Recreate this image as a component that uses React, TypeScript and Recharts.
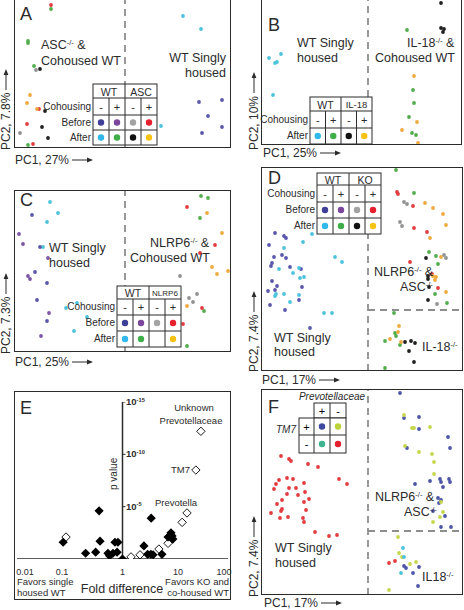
import React from 'react'
import { ScatterChart, Scatter, XAxis, YAxis, ReferenceLine } from 'recharts'

type Pt = [number, number]

// PC scores (arbitrary units, origin at the panel's lower-left corner)
// panel A
const aNavy: Pt[] = [[185, 46], [208, 48], [194, 32], [208, 21], [188, 15]]
const aCyan: Pt[] = [[169, 132], [187, 119], [147, 22]]
const aRed: Pt[] = [[37, 143], [13, 24], [19, 4], [25, 39]]
const aGreen: Pt[] = [[37, 139], [14, 107], [14, 105], [20, 82], [14, 3]]
const aGray: Pt[] = [[22, 78], [6, 15]]
const aBlack: Pt[] = [[26, 79], [31, 37], [28, 21], [34, 10]]
const aOrange: Pt[] = [[16, 53], [13, 45], [23, 39]]

// panel B
const bCyan: Pt[] = [[20, 91], [16, 83], [14, 82], [8, 87], [12, 50]]
const bBlack: Pt[] = [[180, 142], [180, 117], [183, 116], [182, 113]]
const bGreen: Pt[] = [[146, 115], [152, 55], [153, 42], [148, 28], [151, 12], [155, 10]]
const bOrange: Pt[] = [[153, 69], [156, 23], [141, 15], [157, 2]]

// panel C
const cCyan: Pt[] = [[36, 150], [44, 139], [33, 130], [29, 105], [52, 44], [63, 49], [73, 35], [60, 21]]
const cNavy: Pt[] = [[18, 137], [26, 105], [21, 80], [33, 69], [23, 52], [33, 31]]
const cPurple: Pt[] = [[5, 118], [9, 108], [34, 94], [14, 76], [16, 73], [35, 39], [27, 16]]
const cGreen: Pt[] = [[187, 156], [194, 154], [186, 134], [190, 41], [173, 6]]
const cRed: Pt[] = [[173, 145], [201, 107], [186, 99], [188, 44], [169, 28]]
const cOrange: Pt[] = [[193, 139], [208, 119], [198, 85], [203, 78], [214, 81], [173, 46]]
const cGray: Pt[] = [[166, 76], [183, 58], [175, 54], [179, 50]]

// panel D
const dNavy: Pt[] = [[14, 138], [23, 135], [25, 133], [8, 126], [21, 116], [25, 113], [13, 114], [11, 108], [10, 105], [29, 104], [40, 102], [11, 90], [16, 85], [14, 81], [41, 84], [7, 80], [38, 71], [49, 43], [9, 66], [24, 61]]
const dCyan: Pt[] = [[42, 129], [51, 137], [23, 123], [32, 98], [38, 103], [18, 102], [74, 114], [81, 109], [39, 93], [43, 94], [15, 77], [14, 75], [23, 77], [38, 76], [63, 58], [71, 58], [29, 69]]
const dGreen: Pt[] = [[135, 201], [153, 178], [168, 119], [175, 115], [177, 107], [174, 77], [186, 68], [133, 58], [124, 30], [134, 38], [135, 35], [139, 26], [124, 3]]
const dRed: Pt[] = [[136, 179], [137, 177], [152, 165], [153, 143], [166, 139], [149, 109], [171, 97], [177, 83]]
const dGray: Pt[] = [[143, 169], [146, 167], [139, 149], [141, 145], [183, 116], [185, 113], [176, 67]]
const dOrange: Pt[] = [[164, 168], [172, 163], [182, 157], [185, 146], [169, 133], [180, 114], [172, 95], [175, 94], [174, 91], [185, 79], [138, 45], [137, 39], [129, 32], [140, 29]]
const dBlack: Pt[] = [[165, 113], [167, 95], [167, 92], [168, 84], [167, 71], [144, 29], [150, 30], [148, 20], [154, 28], [153, 9]]

// panel F
const fRed: Pt[] = [[20, 139], [28, 136], [30, 134], [47, 131], [57, 128], [26, 117], [18, 115], [32, 116], [15, 111], [13, 106], [28, 107], [35, 107], [43, 112], [78, 116], [86, 111], [26, 101], [37, 100], [44, 103], [21, 95], [48, 96], [16, 91], [43, 93], [21, 86], [20, 84], [45, 85], [10, 82], [27, 78], [19, 77], [42, 77], [43, 73], [54, 63], [68, 59], [76, 60], [128, 32], [134, 34]]
const fBlue: Pt[] = [[139, 202], [143, 177], [158, 178], [158, 166], [187, 158], [189, 147], [146, 147], [169, 114], [179, 116], [180, 113], [188, 116], [189, 113], [154, 111], [182, 108], [177, 97], [180, 95], [178, 92], [172, 84], [184, 79], [180, 68], [190, 68], [143, 29], [145, 27], [158, 28], [152, 22], [157, 9]]
const fLime: Pt[] = [[143, 180], [151, 167], [153, 167], [169, 168], [144, 149], [158, 143], [171, 141], [173, 133], [173, 121], [180, 93], [182, 83], [179, 78], [172, 73], [137, 58], [138, 42], [141, 38], [149, 31], [155, 33], [128, 5]]
const fCyan: Pt[] = [[142, 47], [143, 38], [140, 22]]

// panel E: fold difference vs -log10(p)
const eFilled: Pt[] = [[0.075, 1.6], [0.36, 4.6], [0.375, 1.7], [0.2, 0.55], [0.31, 0.65], [0.53, 0.55], [0.57, 0.3], [0.66, 0.55], [0.72, 1.6], [0.82, 1.6], [0.79, 0.65], [1, 0], [3.5, 3.9], [2.55, 1.25], [3.0, 0.45], [3.45, 0.45], [3.8, 0.4], [5.6, 0.45], [7.3, 2.1], [8.3, 2.5], [8.7, 2.2], [9.0, 1.9]]
const eOpen: Pt[] = [[0.085, 2.1], [1.45, 0.2], [2.15, 0.4], [4.9, 0.95], [7.3, 1.5], [13.5, 3.5], [16.7, 4.4], [24.6, 8.5], [30.6, 12.2]]
const eTicksX = ['0.01', '0.1', '1', '10', '100']
const eTicksY = [5, 10, 15]

const INK = '#2b2b2b'
const DASH = '#8e8e8e'
const FONT = '"Liberation Sans", Arial, sans-serif'

// scatter colours
const S = {
  navy: '#5a57ab', purple: '#7b55a6', gray: '#929292', red: '#e23b3f', cyan: '#4cc3dc',
  green: '#52ad4c', black: '#202020', orange: '#f0a93e', blue: '#4d55a8', lime: '#c6d64c',
}
// legend colours
const L = {
  navy: '#3f3f98', purple: '#7b469c', gray: '#a3a3a3', red: '#e5202f', cyan: '#2fb8e9',
  green: '#3fae49', black: '#111111', yellow: '#f6c315', blue: '#3e4aa0', lime: '#bcd43a', teal: '#3fb38f',
}

const toData = (pts: Pt[]) => pts.map(([x, y]) => ({ x, y }))

const Dot = (p: any) => <circle cx={p.cx} cy={p.cy} r={1.9} fill={p.fill} />
const FilledDiamond = (p: any) => (
  <polygon points={`${p.cx},${p.cy - 4.6} ${p.cx + 4.6},${p.cy} ${p.cx},${p.cy + 4.6} ${p.cx - 4.6},${p.cy}`} fill="#000" />
)
const OpenDiamond = (p: any) => (
  <polygon points={`${p.cx},${p.cy - 4.2} ${p.cx + 4.2},${p.cy} ${p.cx},${p.cy + 4.2} ${p.cx - 4.2},${p.cy}`} fill="#fff" stroke="#000" strokeWidth={0.9} />
)

interface Layer { pts: Pt[]; color: string }
type Seg = [number, number, number, number]

function PcaPanel({ left, top, w, h, layers, segs }: { left: number; top: number; w: number; h: number; layers: Layer[]; segs: Seg[] }) {
  return (
    <div style={{ position: 'absolute', left, top, width: w, height: h }}>
      <ScatterChart width={w} height={h} margin={{ top: 0, right: 0, bottom: 0, left: 0 }}>
        <XAxis type="number" dataKey="x" domain={[0, w]} hide height={0} />
        <YAxis type="number" dataKey="y" domain={[0, h]} hide width={0} />
        {segs.map((s, i) => (
          <ReferenceLine key={i} segment={[{ x: s[0], y: s[1] }, { x: s[2], y: s[3] }]} stroke={DASH} strokeWidth={1.8} strokeDasharray="7 5" />
        ))}
        {layers.map((l, i) => (
          <Scatter key={i} data={toData(l.pts)} fill={l.color} shape={Dot} isAnimationActive={false} />
        ))}
      </ScatterChart>
      <div style={{ position: 'absolute', inset: 0, border: `1.5px solid ${INK}`, pointerEvents: 'none' }} />
    </div>
  )
}

function Txt({ x, y, size = 12.5, anchor = 'start', italic, bold, children }: any) {
  const tx = anchor === 'start' ? '0' : anchor === 'middle' ? '-50%' : '-100%'
  return (
    <div style={{
      position: 'absolute', left: x, top: y, transform: `translate(${tx}, -50%)`, fontSize: size, lineHeight: 1,
      whiteSpace: 'nowrap', fontStyle: italic ? 'italic' : 'normal', fontWeight: bold ? 700 : 400,
    }}>{children}</div>
  )
}

const Sup = ({ children }: any) => <span style={{ fontSize: '0.6em', position: 'relative', top: '-0.6em' }}>{children}</span>

const Arrow = () => (
  <svg width={22} height={8} style={{ marginLeft: 3, flex: 'none' }}>
    <line x1={0} y1={4} x2={17} y2={4} stroke={INK} strokeWidth={1} />
    <path d="M15,1.6 L21,4 L15,6.4 Z" fill={INK} />
  </svg>
)

function HLabel({ x, y, text }: { x: number; y: number; text: string }) {
  return (
    <div style={{ position: 'absolute', left: x, top: y - 7, height: 14, display: 'flex', alignItems: 'center', fontSize: 12, whiteSpace: 'nowrap' }}>
      {text}<Arrow />
    </div>
  )
}

function VLabel({ x, bottom, text }: { x: number; bottom: number; text: string }) {
  return (
    <div style={{
      position: 'absolute', left: x - 7, top: bottom, height: 14, transformOrigin: '0 0', transform: 'rotate(-90deg)',
      display: 'flex', alignItems: 'center', fontSize: 12, whiteSpace: 'nowrap',
    }}>
      {text}<Arrow />
    </div>
  )
}

// legend grid: header row with two groups, then rows of "+/-" text or coloured dots
function Grid({ x, y, colW, rowH, head, rows, labels }: { x: number; y: number; colW: number; rowH: number[]; head: [string, number][]; rows: string[][]; labels: string[] }) {
  const W = colW * 4
  const ys = rowH.reduce((acc, h) => [...acc, acc[acc.length - 1] + h], [0])
  const H = ys[ys.length - 1]
  return (
    <>
      <svg style={{ position: 'absolute', left: x, top: y, overflow: 'visible' }} width={W} height={H}>
        <rect x={0} y={0} width={W} height={H} fill="#fff" stroke={INK} strokeWidth={1} />
        {ys.slice(1, -1).map((yy) => <line key={yy} x1={0} x2={W} y1={yy} y2={yy} stroke={INK} strokeWidth={1} />)}
        {[1, 2, 3].map((c) => <line key={c} x1={c * colW} x2={c * colW} y1={c === 2 ? 0 : ys[1]} y2={H} stroke={INK} strokeWidth={1} />)}
        {head.map(([t, fs], i) => (
          <text key={i} x={colW * (1 + 2 * i)} y={ys[1] / 2 + 0.5} textAnchor="middle" dominantBaseline="central" fontSize={fs} fontFamily={FONT} fill={INK}>{t}</text>
        ))}
        {rows.map((r, ri) => r.map((cell, ci) => {
          const cx = colW * ci + colW / 2
          const cy = (ys[ri + 1] + ys[ri + 2]) / 2
          if (cell.startsWith('#')) return <circle key={`${ri}-${ci}`} cx={cx} cy={cy} r={3.2} fill={cell} />
          return <text key={`${ri}-${ci}`} x={cx} y={cy} textAnchor="middle" dominantBaseline="central" fontSize={11} fontFamily={FONT} fill={INK}>{cell}</text>
        }))}
      </svg>
      {labels.map((lb, ri) => (
        <Txt key={lb} x={x - 2} y={y + (ys[ri + 1] + ys[ri + 2]) / 2} size={10} anchor="end">{lb}</Txt>
      ))}
    </>
  )
}

function GridF() {
  const x = 299, y = 403
  const cw = [15, 16, 16], rh = [15, 17, 18]
  const xs = [0, 15, 31, 47], ys = [0, 15, 32, 50]
  const cells = [['+', L.blue, L.lime], ['-', L.teal, L.red]]
  return (
    <svg style={{ position: 'absolute', left: x, top: y, overflow: 'visible' }} width={47} height={50}>
      <rect x={xs[1]} y={0} width={xs[3] - xs[1]} height={ys[1]} fill="#fff" stroke={INK} />
      <rect x={0} y={ys[1]} width={xs[3]} height={ys[3] - ys[1]} fill="#fff" stroke={INK} />
      <line x1={0} x2={xs[3]} y1={ys[2]} y2={ys[2]} stroke={INK} />
      <line x1={xs[1]} x2={xs[1]} y1={ys[1]} y2={ys[3]} stroke={INK} />
      <line x1={xs[2]} x2={xs[2]} y1={0} y2={ys[3]} stroke={INK} />
      <text x={xs[1] + cw[1] / 2} y={rh[0] / 2} textAnchor="middle" dominantBaseline="central" fontSize={11} fontFamily={FONT}>+</text>
      <text x={xs[2] + cw[2] / 2} y={rh[0] / 2} textAnchor="middle" dominantBaseline="central" fontSize={11} fontFamily={FONT}>-</text>
      {cells.map((r, ri) => r.map((c, ci) => {
        const cx = xs[ci] + cw[ci] / 2
        const cy = (ys[ri + 1] + ys[ri + 2]) / 2
        return c.startsWith('#')
          ? <circle key={`${ri}${ci}`} cx={cx} cy={cy} r={3.2} fill={c} />
          : <text key={`${ri}${ci}`} x={cx} y={cy} textAnchor="middle" dominantBaseline="central" fontSize={11} fontFamily={FONT}>{c}</text>
      }))}
    </svg>
  )
}

export default function App() {
  return (
    <div style={{ position: 'absolute', left: 0, top: 0, width: 464, height: 610, background: '#fff', fontFamily: FONT, color: INK, overflow: 'hidden' }}>
      {/* A */}
      <PcaPanel left={14} top={-1} w={217} h={149} segs={[[111, 0, 111, 149]]} layers={[
        { pts: aNavy, color: S.navy }, { pts: aCyan, color: S.cyan }, { pts: aRed, color: S.red },
        { pts: aGreen, color: S.green }, { pts: aGray, color: S.gray }, { pts: aBlack, color: S.black }, { pts: aOrange, color: S.orange },
      ]} />
      <Txt x={20} y={14} size={18}>A</Txt>
      <Txt x={41} y={45}>ASC<Sup>-/-</Sup> &amp;</Txt>
      <Txt x={41} y={61}>Cohoused WT</Txt>
      <Txt x={226} y={58} anchor="end">WT Singly</Txt>
      <Txt x={226} y={73} anchor="end">housed</Txt>
      <Grid x={93} y={84} colW={16} rowH={[14, 17, 15, 15]} head={[['WT', 10.5], ['ASC', 10.5]]}
        rows={[['-', '+', '-', '+'], [L.navy, L.purple, L.gray, L.red], [L.cyan, L.green, L.black, L.yellow]]}
        labels={['Cohousing', 'Before', 'After']} />
      <HLabel x={15} y={160} text="PC1, 27%" />
      <VLabel x={6} bottom={150} text="PC2, 7.8%" />

      {/* B */}
      <PcaPanel left={261} top={-1} w={201} h={146} segs={[[107, 0, 107, 146]]} layers={[
        { pts: bCyan, color: S.cyan }, { pts: bBlack, color: S.black }, { pts: bGreen, color: S.green }, { pts: bOrange, color: S.orange },
      ]} />
      <Txt x={268} y={25} size={18}>B</Txt>
      <Txt x={297} y={43}>WT Singly</Txt>
      <Txt x={297} y={58}>housed</Txt>
      <Txt x={407} y={43}>IL-18<Sup>-/-</Sup> &amp;</Txt>
      <Txt x={375} y={58}>Cohoused WT</Txt>
      <Grid x={310} y={97} colW={15.5} rowH={[14, 17, 16]} head={[['WT', 10.5], ['IL-18', 9.5]]}
        rows={[['-', '+', '-', '+'], [L.cyan, L.green, L.black, L.yellow]]}
        labels={['Cohousing', 'After']} />
      <HLabel x={263} y={153} text="PC1, 25%" />
      <VLabel x={254} bottom={150} text="PC2, 10%" />

      {/* C */}
      <PcaPanel left={14} top={190} w={217} h={162} segs={[[111, 0, 111, 162]]} layers={[
        { pts: cCyan, color: S.cyan }, { pts: cNavy, color: S.navy }, { pts: cPurple, color: S.purple }, { pts: cGreen, color: S.green },
        { pts: cRed, color: S.red }, { pts: cOrange, color: S.orange }, { pts: cGray, color: S.gray },
      ]} />
      <Txt x={20} y={200} size={18}>C</Txt>
      <Txt x={49} y={248}>WT Singly</Txt>
      <Txt x={49} y={263}>housed</Txt>
      <Txt x={150} y={243}>NLRP6<Sup>-/-</Sup> &amp;</Txt>
      <Txt x={130} y={258}>Cohoused WT</Txt>
      <Grid x={117} y={286} colW={16} rowH={[13, 16, 16, 16]} head={[['WT', 10.5], ['NLRP6', 8]]}
        rows={[['-', '+', '-', '+'], [L.navy, L.purple, L.gray, L.red], [L.cyan, L.green, '', L.yellow]]}
        labels={['Cohousing', 'Before', 'After']} />
      <HLabel x={15} y={362} text="PC1, 25%" />
      <VLabel x={6} bottom={354} text="PC2, 7.3%" />

      {/* D */}
      <PcaPanel left={261} top={167} w={202} h={204} segs={[[107, 0, 107, 138], [107, 61, 202, 61]]} layers={[
        { pts: dNavy, color: S.navy }, { pts: dCyan, color: S.cyan }, { pts: dGreen, color: S.green }, { pts: dRed, color: S.red },
        { pts: dGray, color: S.gray }, { pts: dOrange, color: S.orange }, { pts: dBlack, color: S.black },
      ]} />
      <Txt x={268} y={178} size={18}>D</Txt>
      <Grid x={317} y={173} colW={16} rowH={[12, 17, 16, 16]} head={[['WT', 10.5], ['KO', 10.5]]}
        rows={[['-', '+', '-', '+'], [L.navy, L.purple, L.gray, L.red], [L.cyan, L.green, L.black, L.yellow]]}
        labels={['Cohousing', 'Before', 'After']} />
      <Txt x={374} y={272}>NLRP6<Sup>-/-</Sup> &amp;</Txt>
      <Txt x={400} y={287}>ASC<Sup>-/-</Sup></Txt>
      <Txt x={274} y={338}>WT Singly</Txt>
      <Txt x={274} y={352}>housed</Txt>
      <Txt x={422} y={347}>IL-18<Sup>-/-</Sup></Txt>
      <HLabel x={262} y={380} text="PC1, 17%" />
      <VLabel x={254} bottom={372} text="PC2, 7.4%" />

      {/* E */}
      <div style={{ position: 'absolute', left: 14, top: 391, width: 217, height: 209, border: `1.5px solid ${INK}`, boxSizing: 'border-box' }} />
      <div style={{ position: 'absolute', left: 17, top: 402, width: 211, height: 157 }}>
        <ScatterChart width={211} height={157} margin={{ top: 0, right: 0, bottom: 0, left: 0 }}>
          <XAxis type="number" dataKey="x" scale="log" domain={[0.01, 100]} hide height={0} />
          <YAxis type="number" dataKey="y" domain={[0, 15]} hide width={0} />
          <ReferenceLine y={0} stroke={INK} strokeWidth={1.5} />
          <ReferenceLine x={1} stroke={INK} strokeWidth={1.5} />
          {eTicksY.map((t) => (
            <ReferenceLine key={t} segment={[{ x: 1, y: t }, { x: 1.14, y: t }]} stroke={INK} strokeWidth={1} />
          ))}
          <Scatter data={toData(eOpen)} shape={OpenDiamond} isAnimationActive={false} />
          <Scatter data={toData(eFilled)} shape={FilledDiamond} isAnimationActive={false} />
        </ScatterChart>
      </div>
      <Txt x={20} y={408} size={18}>E</Txt>
      {eTicksY.map((t) => (
        <Txt key={t} x={126} y={559 - t * 10.47} size={9.5} bold>10<Sup>-{t}</Sup></Txt>
      ))}
      <div style={{ position: 'absolute', left: 109, top: 473, fontSize: 10, lineHeight: '10px', transform: 'rotate(-90deg)', transformOrigin: '0 0', whiteSpace: 'nowrap' }}>
        <span style={{ position: 'relative', left: -17 }}>p value</span>
      </div>
      <Txt x={194} y={408} size={9.5} anchor="middle">Unknown</Txt>
      <Txt x={191} y={421} size={9.5} anchor="middle">Prevotellaceae</Txt>
      <Txt x={190} y={470} size={9.5} anchor="end">TM7</Txt>
      <Txt x={176} y={503} size={9.5} anchor="middle">Prevotella</Txt>
      {eTicksX.map((t, i) => (
        <Txt key={t} x={[25, 62, 122.5, 178, 224][i]} y={572} size={9} anchor="middle">{t}</Txt>
      ))}
      <Txt x={17} y={582} size={9.5}>Favors single</Txt>
      <Txt x={17} y={593} size={9.5}>housed WT</Txt>
      <Txt x={122} y={589} size={12.5} anchor="middle">Fold difference</Txt>
      <Txt x={229} y={582} size={9.5} anchor="end">Favors KO and</Txt>
      <Txt x={229} y={593} size={9.5} anchor="end">co-housed WT</Txt>

      {/* F */}
      <PcaPanel left={261} top={389} w={202} h={206} segs={[[107, 0, 107, 206], [107, 64, 202, 64]]} layers={[
        { pts: fRed, color: S.red }, { pts: fBlue, color: S.blue }, { pts: fLime, color: S.lime }, { pts: fCyan, color: S.cyan },
      ]} />
      <Txt x={268} y={407} size={18}>F</Txt>
      <Txt x={332} y={397} size={10} anchor="middle" italic>Prevotellaceae</Txt>
      <Txt x={296} y={430} size={10} anchor="end" italic>TM7</Txt>
      <GridF />
      <Txt x={375} y={497}>NLRP6<Sup>-/-</Sup> &amp;</Txt>
      <Txt x={404} y={512}>ASC<Sup>-/-</Sup></Txt>
      <Txt x={275} y={548}>WT Singly</Txt>
      <Txt x={275} y={563}>housed</Txt>
      <Txt x={422} y={577}>IL18<Sup>-/-</Sup></Txt>
      <HLabel x={264} y={603} text="PC1, 17%" />
      <VLabel x={254} bottom={597} text="PC2, 7.4%" />
    </div>
  )
}
